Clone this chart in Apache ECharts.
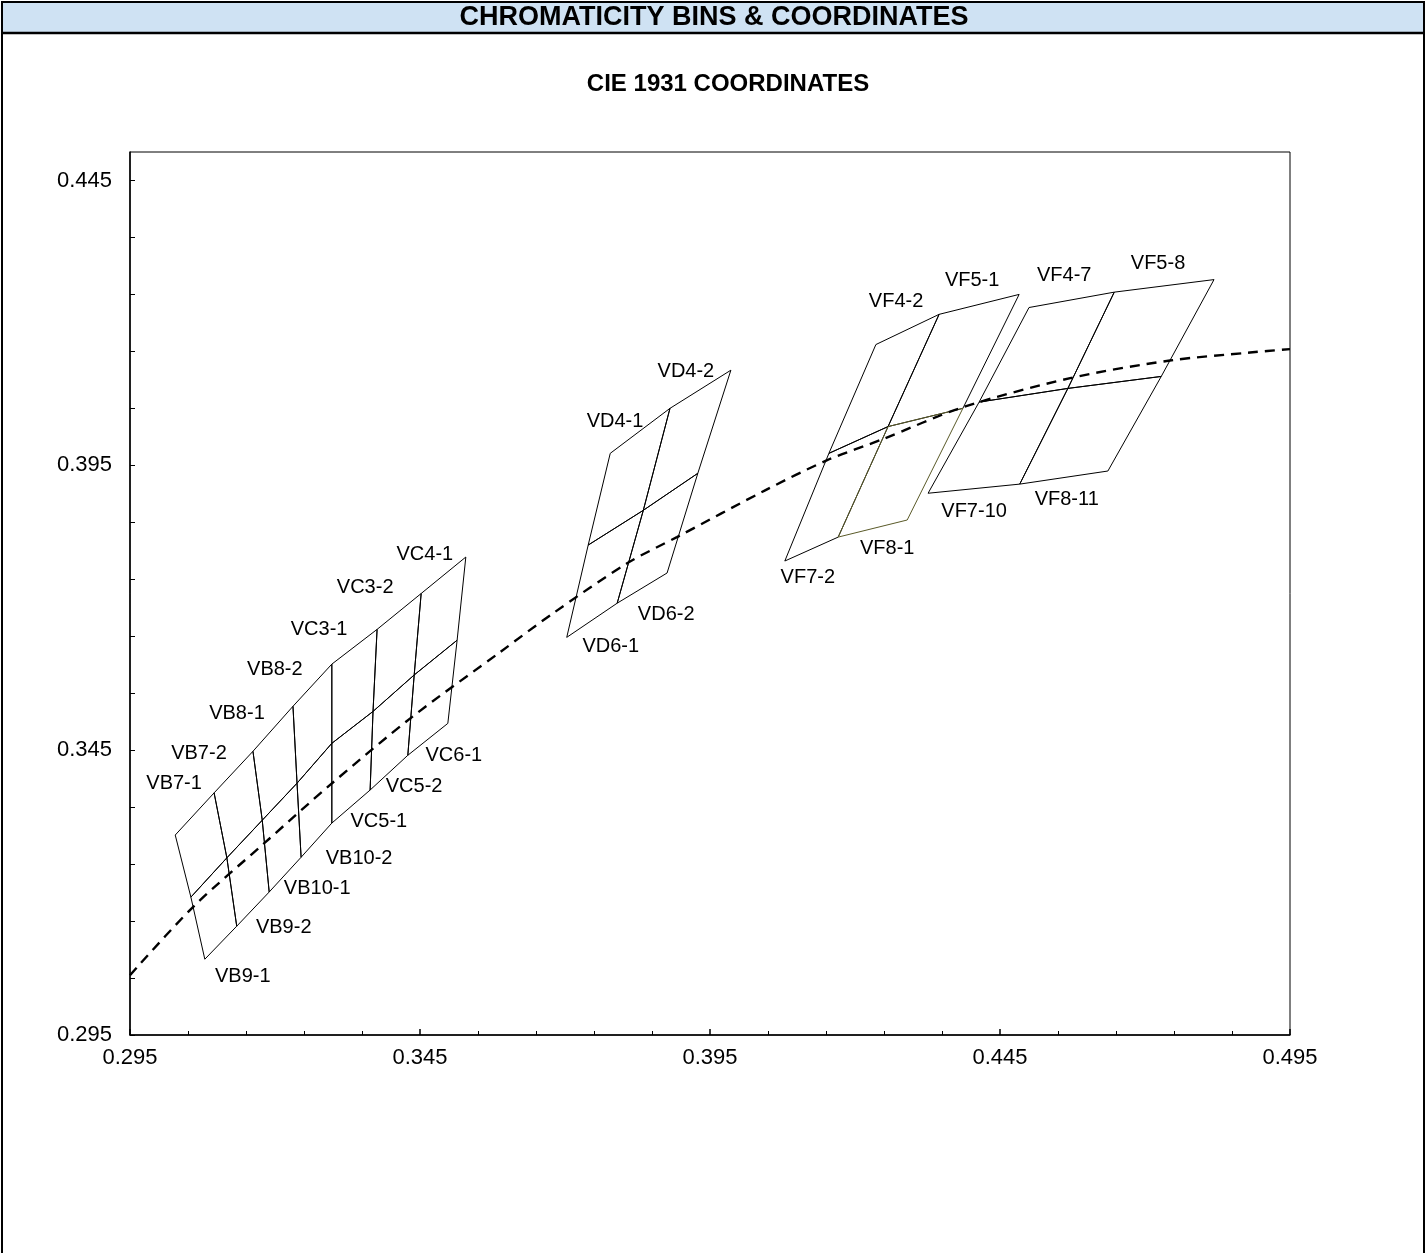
<!DOCTYPE html>
<html><head><meta charset="utf-8">
<script src="https://cdn.jsdelivr.net/npm/echarts@6/dist/echarts.min.js"></script>
<style>html,body{margin:0;padding:0;background:#fff}#c{width:1427px;height:1253px}</style>
</head><body><div id="c"></div>
<script>
// ---------- DATA ----------
const headerText = 'CHROMATICITY BINS & COORDINATES';
const chartTitle = 'CIE 1931 COORDINATES';
const xTickLabels = ['0.295', '0.345', '0.395', '0.445', '0.495'];
const yTickLabels = ['0.295', '0.345', '0.395', '0.445'];

// VB / VC block (7 columns x 2 rows)
const vbTop = [[0.3028,0.3301],[0.3095,0.3375],[0.3162,0.3448],[0.3231,0.3527],[0.3298,0.3601],[0.3376,0.3662],[0.3452,0.3725],[0.3529,0.3789]];
const vbMid = [[0.3055,0.3192],[0.3117,0.3261],[0.3178,0.3327],[0.3238,0.3392],[0.3298,0.3462],[0.3369,0.3518],[0.3440,0.3582],[0.3514,0.3643]];
const vbBot = [[0.3079,0.3083],[0.3134,0.3141],[0.3190,0.3201],[0.3245,0.3262],[0.3298,0.3322],[0.3364,0.3380],[0.3429,0.3441],[0.3498,0.3497]];
const vbUpperNames = ['VB7-1','VB7-2','VB8-1','VB8-2','VC3-1','VC3-2','VC4-1'];
const vbLowerNames = ['VB9-1','VB9-2','VB10-1','VB10-2','VC5-1','VC5-2','VC6-1'];

// VD block
const vdTop = [[0.3778,0.3971],[0.3881,0.4050],[0.3986,0.4117]];
const vdMid = [[0.3740,0.3810],[0.3835,0.3871],[0.3929,0.3936]];
const vdBot = [[0.3703,0.3648],[0.3790,0.3708],[0.3876,0.3761]];
const vdUpperNames = ['VD4-1','VD4-2'];
const vdLowerNames = ['VD6-1','VD6-2'];

// VF block (left)
const vfaTop = [[0.4236,0.4162],[0.4345,0.4215],[0.4483,0.4250]];
const vfaMid = [[0.4155,0.3971],[0.4257,0.4018],[0.4386,0.4050]];
const vfaBot = [[0.4079,0.3782],[0.4171,0.3824],[0.4290,0.3854]];
const vfaUpperNames = ['VF4-2','VF5-1'];
const vfaLowerNames = ['VF7-2','VF8-1'];

// VF block (right)
const vfbTop = [[0.4500,0.4227],[0.4647,0.4254],[0.4819,0.4276]];
const vfbMid = [[0.4414,0.4061],[0.4567,0.4085],[0.4728,0.4106]];
const vfbBot = [[0.4326,0.3901],[0.4484,0.3917],[0.4636,0.3940]];
const vfbUpperNames = ['VF4-7','VF5-8'];
const vfbLowerNames = ['VF7-10','VF8-11'];

// Black body (Planckian) locus
const locusX = [0.295, 0.3059, 0.3183, 0.3295, 0.3436, 0.3588, 0.3679, 0.3807, 0.3893, 0.4045, 0.4152, 0.4248, 0.4386, 0.4571, 0.4743, 0.4881, 0.495];
const locusY = [0.3055, 0.3175, 0.3288, 0.3389, 0.3508, 0.3622, 0.3690, 0.3778, 0.3824, 0.3906, 0.3959, 0.3996, 0.4052, 0.4103, 0.4134, 0.4148, 0.4154];

// ---------- STYLE (label pixel offsets from the anchor corner of each bin) ----------
const labelOffsets = {
  'VB7-1':[-40,-9],'VB7-2':[-54,2],'VB8-1':[-56,7],'VB8-2':[-57,5],'VC3-1':[-58,0],'VC3-2':[-56,-6],'VC4-1':[-41,-3],
  'VB9-1':[38,17],'VB9-2':[47,1],'VB10-1':[48,-4],'VB10-2':[58,1],'VC5-1':[47,-2],'VC5-2':[44,-4],'VC6-1':[46,0],
  'VD4-1':[-55,13],'VD4-2':[-45,1],'VD6-1':[44,9],'VD6-2':[49,11],
  'VF4-2':[-43,-13],'VF5-1':[-47,-14],'VF7-2':[23,16],'VF8-1':[49,11],
  'VF4-7':[-50,-17],'VF5-8':[-56,-16],'VF7-10':[46,18],'VF8-11':[47,15]
};
const binColors = {'VF8-1':'#5a5a28'};
const FONT = '"Liberation Sans", Arial, sans-serif';

function makeBins(top, mid, bot, upNames, lowNames) {
  const bins = [];
  for (let i = 0; i < top.length - 1; i++) {
    bins.push({name: upNames[i], pts: [top[i], top[i+1], mid[i+1], mid[i], top[i]], anchor: top[i+1]});
    bins.push({name: lowNames[i], pts: [mid[i], mid[i+1], bot[i+1], bot[i], mid[i]], anchor: bot[i]});
  }
  return bins;
}
const bins = [].concat(
  makeBins(vbTop, vbMid, vbBot, vbUpperNames, vbLowerNames),
  makeBins(vdTop, vdMid, vdBot, vdUpperNames, vdLowerNames),
  makeBins(vfaTop, vfaMid, vfaBot, vfaUpperNames, vfaLowerNames),
  makeBins(vfbTop, vfbMid, vfbBot, vfbUpperNames, vfbLowerNames)
);

const series = [];
bins.forEach(b => {
  series.push({
    name: b.name, type: 'line', data: b.pts, symbol: 'none', silent: true,
    lineStyle: {color: binColors[b.name] || '#000', width: 1}, z: 3
  });
});
series.push({
  name: 'locus', type: 'line', data: locusX.map((x, i) => [x, locusY[i]]),
  symbol: 'none', smooth: 0.3, silent: true,
  lineStyle: {color: '#000', width: 2.4, type: [10, 7]}, z: 4
});
series.push({
  name: 'labels', type: 'scatter', symbolSize: 1, silent: true,
  itemStyle: {color: 'transparent', opacity: 1},
  data: bins.map(b => ({
    name: b.name, value: b.anchor,
    label: {offset: labelOffsets[b.name] || [0,0]}
  })),
  label: {show: true, position: 'inside', formatter: '{b}', color: '#000', fontSize: 20, fontFamily: FONT, textBorderWidth: 0},
  z: 5
});

const chart = echarts.init(document.getElementById('c'), null, {renderer: 'canvas'});
chart.setOption({
  animation: false,
  backgroundColor: '#fff',
  graphic: [
    {type: 'rect', shape: {x: 2, y: 2, width: 1422, height: 31}, style: {fill: '#cfe2f3'}, z: 0},
    {type: 'rect', shape: {x: 2, y: 2, width: 1422, height: 1300}, style: {fill: 'none', stroke: '#000', lineWidth: 2}, z: 10},
    {type: 'line', shape: {x1: 2, y1: 33, x2: 1424, y2: 33}, style: {stroke: '#000', lineWidth: 2.5}, z: 10},
    {type: 'text', x: 714, y: 18, style: {text: headerText, font: 'bold 27px ' + FONT, fill: '#000', textAlign: 'center', textVerticalAlign: 'middle'}, z: 10},
    {type: 'text', x: 728, y: 84, style: {text: chartTitle, font: 'bold 24px ' + FONT, fill: '#000', textAlign: 'center', textVerticalAlign: 'middle'}, z: 10}
  ],
  grid: {left: 130, top: 152, width: 1160, height: 883, show: true, borderColor: '#000', borderWidth: 1, backgroundColor: 'transparent'},
  xAxis: {
    type: 'value', min: 0.295, max: 0.495, interval: 0.05,
    axisLine: {show: true, lineStyle: {color: '#000', width: 1.5}},
    axisTick: {show: true, inside: true, length: 6, lineStyle: {color: '#000', width: 1.5}},
    minorTick: {show: true, splitNumber: 5, length: 4, lineStyle: {color: '#000', width: 1}},
    splitLine: {show: false}, minorSplitLine: {show: false},
    axisLabel: {
      color: '#000', fontSize: 22, fontFamily: FONT, margin: 12,
      formatter: v => { const k = Math.round((v - 0.295) / 0.05); return xTickLabels[k] || ''; }
    }
  },
  yAxis: {
    type: 'value', min: 0.295, max: 0.45, interval: 0.01,
    axisLine: {show: true, lineStyle: {color: '#000', width: 1.5}},
    axisTick: {show: true, inside: true, length: 5, lineStyle: {color: '#000', width: 1}},
    splitLine: {show: false},
    axisLabel: {
      color: '#000', fontSize: 22, fontFamily: FONT, margin: 18, showMaxLabel: false,
      formatter: v => {
        const m = Math.round((v - 0.295) * 1000);
        if (m % 50 !== 0) return '';
        return yTickLabels[m / 50] || '';
      }
    }
  },
  series: series
});
</script></body></html>
